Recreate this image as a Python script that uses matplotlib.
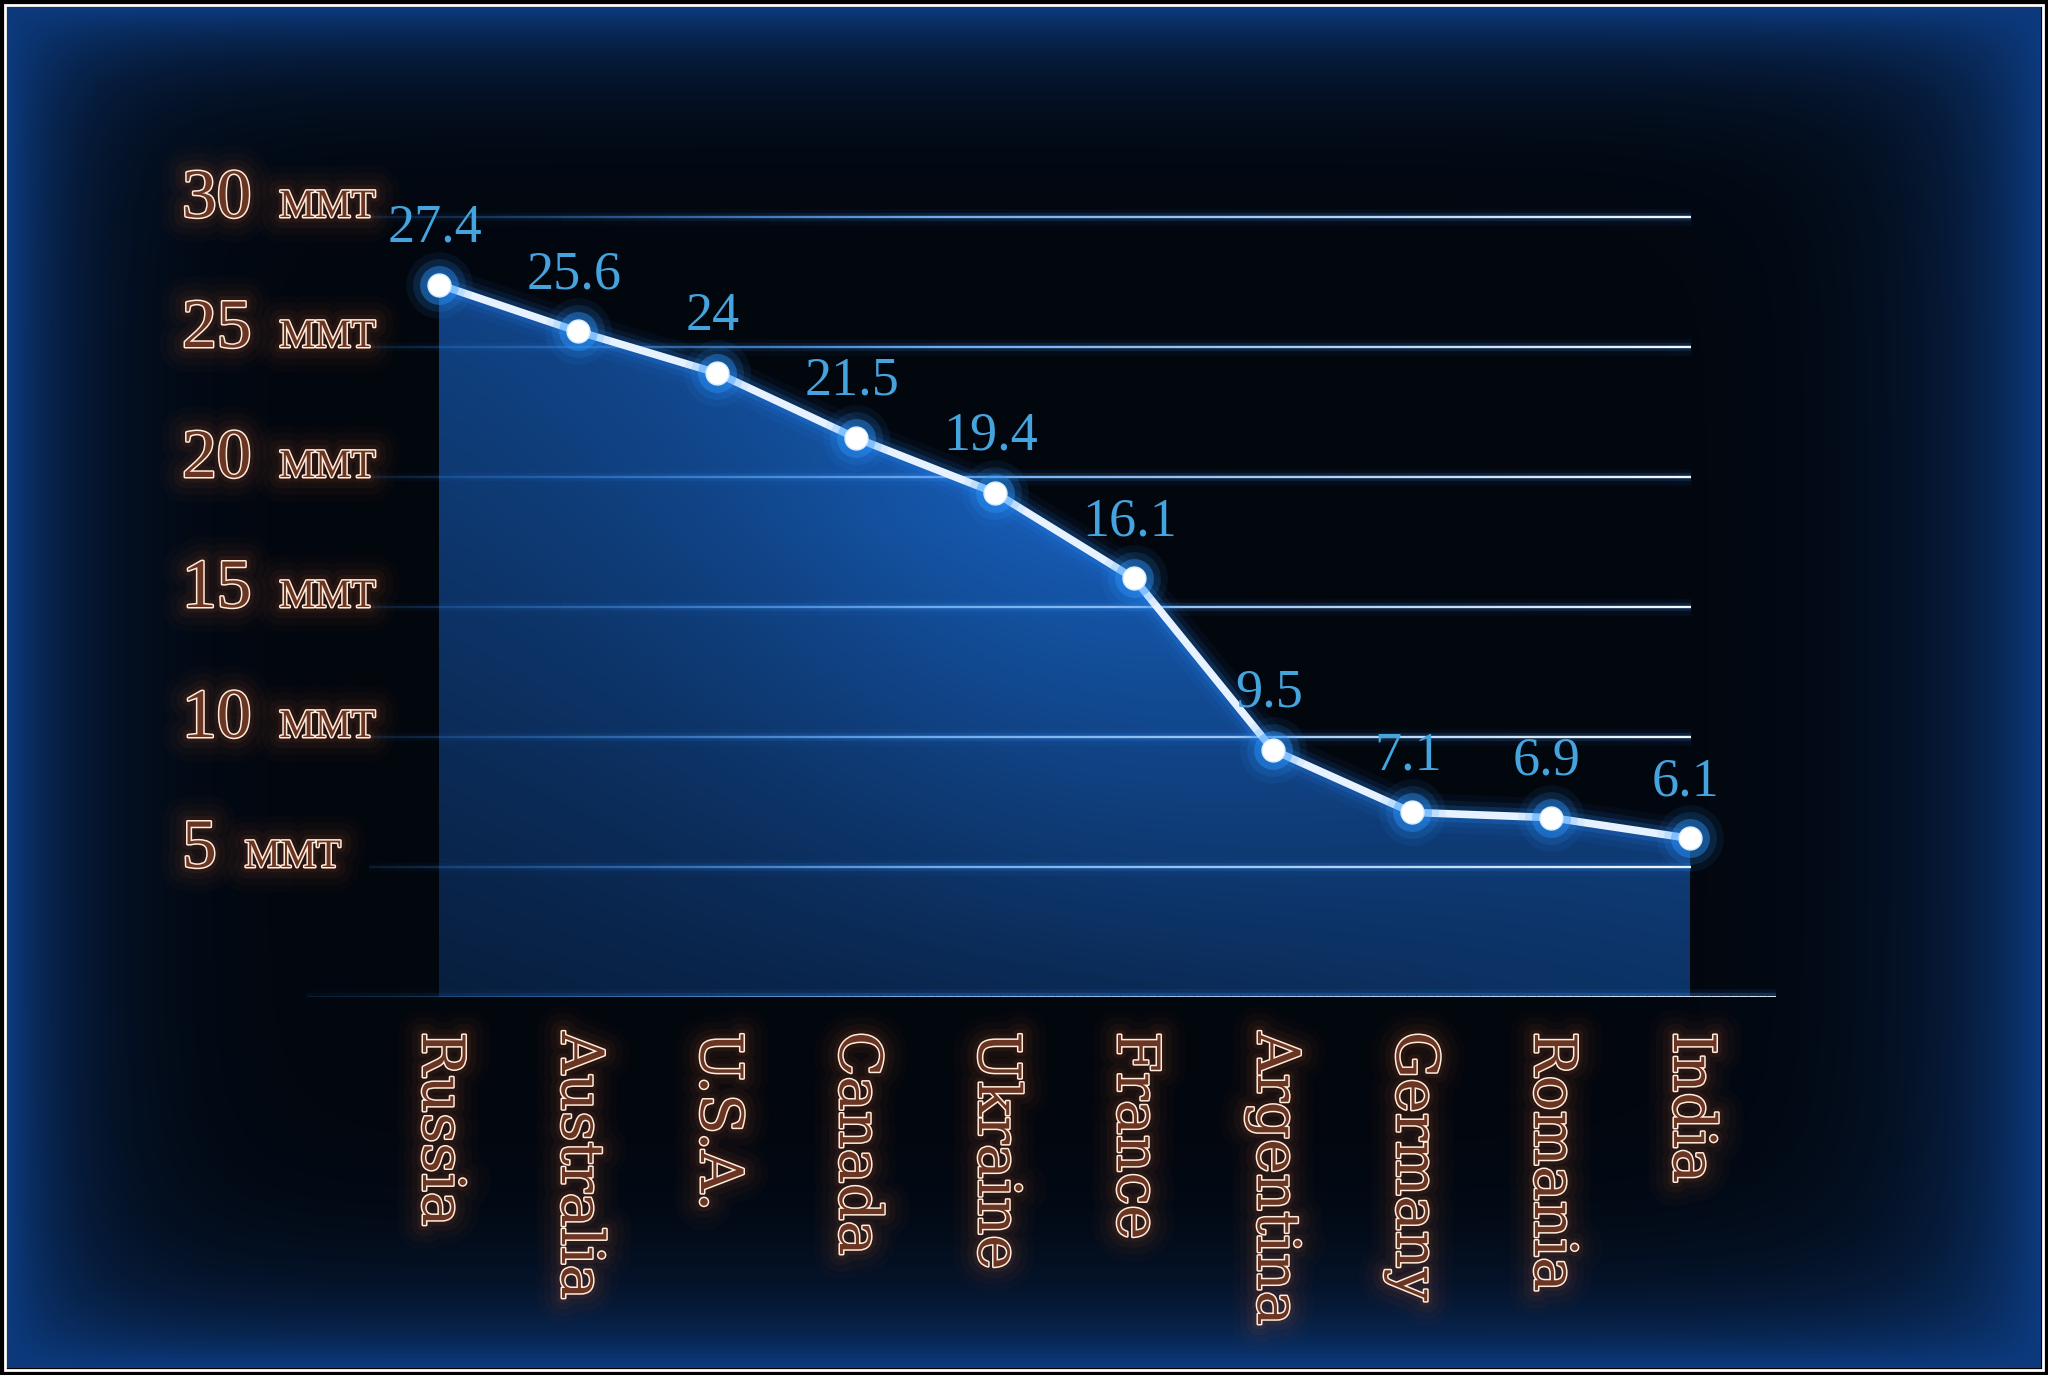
import numpy as np
import matplotlib
matplotlib.use('Agg')
import matplotlib.pyplot as plt
import matplotlib.colors as mcolors
from matplotlib import patheffects as pe
from matplotlib.patches import Polygon, Rectangle
from matplotlib.collections import LineCollection

# data (million metric tonnes)
countries = ['Russia', 'Australia', 'U.S.A.', 'Canada', 'Ukraine',
             'France', 'Argentina', 'Germany', 'Romania', 'India']
production = [27.4, 25.6, 24.0, 21.5, 19.4, 16.1, 9.5, 7.1, 6.9, 6.1]
value_labels = ['27.4', '25.6', '24', '21.5', '19.4', '16.1', '9.5', '7.1', '6.9', '6.1']
y_ticks = [5, 10, 15, 20, 25, 30]
unit = 'MMT'

W, H = 2048, 1375
fig = plt.figure(figsize=(W / 100, H / 100), dpi=100, facecolor='black')

# ---- background: near black centre, blue glow at the edges
bg = fig.add_axes([7 / W, 7 / H, 1 - 14 / W, 1 - 14 / H])
bg.set_axis_off()
ny, nx = 300, 450
u = np.linspace(0, 1, nx)[None, :]
v = np.linspace(0, 1, ny)[:, None]
e_l = np.exp(-u / 0.035)
e_r = np.exp(-(1 - u) / 0.045)
e_t = np.exp(-v / 0.04)
e_b = np.exp(-(1 - v) / 0.045)
edge = 1 - (1 - e_l) * (1 - e_r) * (1 - e_t) * (1 - e_b)
c_mid = np.array([2, 6, 13]) / 255
c_edge = np.array([12, 58, 125]) / 255
bg_img = c_mid + (c_edge - c_mid) * edge[..., None]
bg.imshow(bg_img, aspect='auto', interpolation='bilinear')

fig.add_artist(Rectangle((5 / W, 5 / H), 1 - 10 / W, 1 - 10 / H, transform=fig.transFigure,
                         fill=False, edgecolor='white', lw=2.0))

# ---- main axes
ax = fig.add_axes([307 / W, (H - 997) / H, (1776 - 307) / W, 832 / H])
ax.patch.set_alpha(0)
x = np.arange(len(countries))

# gradient fill under the line
gx, gy = np.meshgrid(np.linspace(0, 9, 300), np.linspace(0, 30, 300))
w = 0.45 * (gy / 25) + 0.3 * (gx / 9) + 0.4 * np.exp(-((gx - 4.8) / 2.8) ** 2) * np.clip(gy / 18, 0, 1)
w = np.clip(w, 0, 1)
c_lo = np.array([8, 30, 62]) / 255
c_hi = np.array([24, 100, 196]) / 255
fill_img = c_lo + (c_hi - c_lo) * w[..., None]
im = ax.imshow(fill_img, extent=(0, 9, 0, 30), origin='lower', aspect='auto',
               interpolation='bilinear', zorder=1)
poly = Polygon(np.column_stack([np.r_[x, x[-1], x[0]], np.r_[production, 0, 0]]),
               closed=True, facecolor='none', edgecolor='none')
ax.add_patch(poly)
im.set_clip_path(poly)


def glow_hline(y, x0, x1, core_lw, zorder, bright=1.0):
    xs = np.linspace(x0, x1, 160)
    segs = [[(xs[k], y), (xs[k + 1], y)] for k in range(len(xs) - 1)]
    ramp = (xs[:-1] - x0) / (x1 - x0)
    c0 = np.array(mcolors.to_rgb('#2f86e6'))
    c1 = np.array(mcolors.to_rgb('#f2faff'))
    alpha = np.clip(0.15 + 2.0 * ramp, 0, 1)
    for lw, a, col in [(12, 0.05, '#2a8cff'), (6, 0.14, '#3d9bff')]:
        cols = [mcolors.to_rgba(col, a * al * bright) for al in alpha]
        ax.add_collection(LineCollection(segs, colors=cols, linewidths=lw, zorder=zorder))
    cols = [(*(c0 + (c1 - c0) * r ** (1.3 / bright)), al) for r, al in zip(ramp, alpha)]
    ax.add_collection(LineCollection(segs, colors=cols, linewidths=core_lw, zorder=zorder))


for t in y_ticks:
    glow_hline(t, -0.5, 9.01, 1.7, 2)
glow_hline(0, -0.95, 9.62, 2.0, 2, bright=1.6)

# the line with its glow
for lw, a in [(28, 0.05), (19, 0.09), (12, 0.18)]:
    ax.plot(x, production, color='#2a8cff', lw=lw, alpha=a, solid_capstyle='round', zorder=4)
ax.plot(x, production, color='#e6f2ff', lw=5.5, solid_joinstyle='round', zorder=5)

for ms, a in [(48, 0.08), (38, 0.15), (28, 0.4)]:
    ax.plot(x, production, 'o', ms=ms, color='#2b95ff', alpha=a, mec='none', zorder=6)
ax.plot(x, production, 'o', ms=16.5, color='white', mec='#d6eeff', mew=1, zorder=7)

# value labels
for xi, yi, s in zip(x, production, value_labels):
    ax.annotate(s, (xi, yi), xytext=(-3, 31), textcoords='offset points', ha='center',
                va='baseline', fontsize=39, color='#45a3de', family='Liberation Serif', zorder=8)

# outlined, glowing copper labels
glow = [pe.Stroke(linewidth=lw, foreground='#e0662e', alpha=a)
        for lw, a in [(36, 0.025), (26, 0.035), (16, 0.05), (8, 0.08)]]
outline = glow + [pe.Stroke(linewidth=2.2, foreground='#ffeedd'), pe.Normal()]

for t in y_ticks:
    num = ax.text(-1.849, t, str(t), fontsize=50, family='Liberation Serif', color='#6b3524',
                  ha='left', va='baseline', path_effects=outline, clip_on=False, zorder=8)
    ax.annotate(unit, xy=(1, t), xycoords=(num, 'data'), xytext=(20, 0),
                textcoords='offset points', ha='left', va='baseline', fontsize=29,
                family='Liberation Serif', color='#6b3524', path_effects=outline, zorder=8)

for xi, name in zip(x, countries):
    ax.annotate(name, (xi, 0), xytext=(0, -25), textcoords='offset points', rotation=-90,
                ha='center', va='top', fontsize=42, family='DejaVu Serif', color='#6b3524',
                path_effects=outline, zorder=8)

ax.set_xlim(-0.9496, 9.619)
ax.set_ylim(0, 32)
ax.set_axis_off()

fig.savefig('out.png', dpi=100, facecolor='black')
